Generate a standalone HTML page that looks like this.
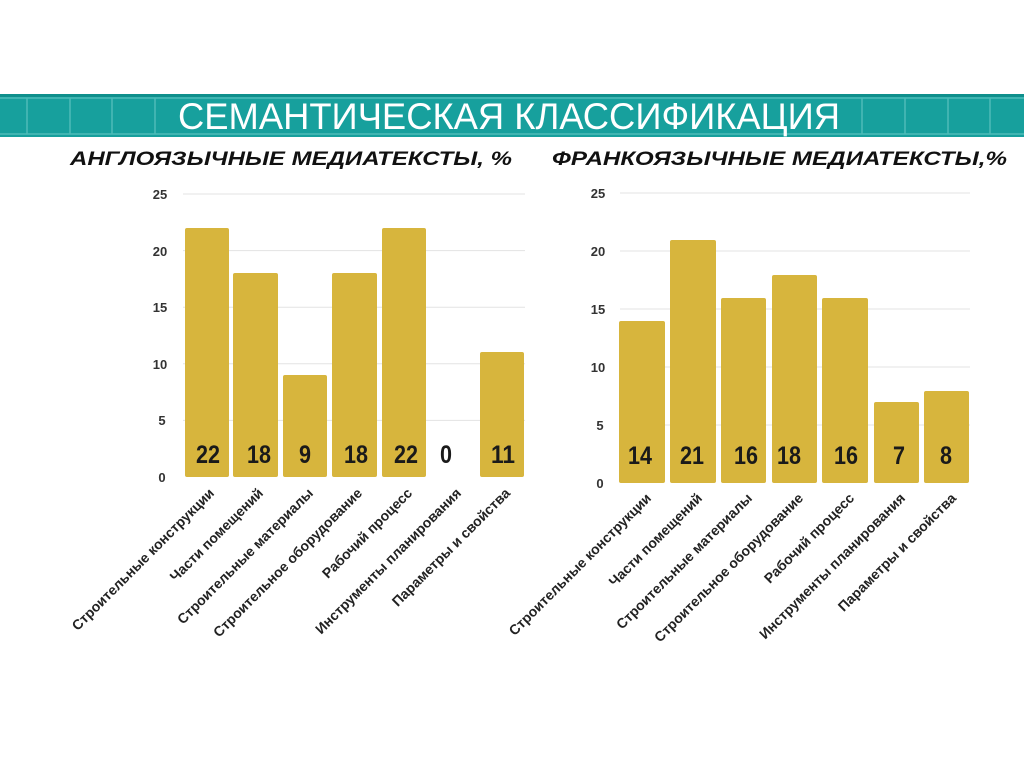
<!DOCTYPE html>
<html><head><meta charset="utf-8"><style>
body{margin:0;background:#fff;}
svg{display:block;}
</style></head><body>
<svg width="1024" height="767" viewBox="0 0 1024 767" xmlns="http://www.w3.org/2000/svg">
<rect width="1024" height="767" fill="#fff"/>
<rect x="0" y="94" width="1024" height="43" fill="#17a09d"/>
<rect x="0" y="94" width="1024" height="3" fill="#0f8f8c"/>
<g stroke="#5cc3bf" stroke-width="1.5" opacity="0.8">
<line x1="0" y1="98" x2="1024" y2="98"/>
<line x1="0" y1="134" x2="1024" y2="134"/>
<line x1="27" y1="98" x2="27" y2="134"/><line x1="70" y1="98" x2="70" y2="134"/><line x1="112" y1="98" x2="112" y2="134"/><line x1="155" y1="98" x2="155" y2="134"/>
<line x1="862" y1="98" x2="862" y2="134"/><line x1="905" y1="98" x2="905" y2="134"/><line x1="948" y1="98" x2="948" y2="134"/><line x1="990" y1="98" x2="990" y2="134"/>
</g>
<text x="178" y="129" textLength="662" lengthAdjust="spacingAndGlyphs" font-family="'Liberation Sans',sans-serif" font-size="37" fill="#fff">СЕМАНТИЧЕСКАЯ КЛАССИФИКАЦИЯ</text>
<text x="70" y="165" textLength="442" lengthAdjust="spacingAndGlyphs" font-family="'Liberation Sans',sans-serif" font-size="19" font-weight="bold" font-style="italic" fill="#111">АНГЛОЯЗЫЧНЫЕ МЕДИАТЕКСТЫ, %</text>
<text x="552" y="165" textLength="455" lengthAdjust="spacingAndGlyphs" font-family="'Liberation Sans',sans-serif" font-size="19" font-weight="bold" font-style="italic" fill="#111">ФРАНКОЯЗЫЧНЫЕ МЕДИАТЕКСТЫ,%</text>

<g font-family="'Liberation Sans',sans-serif" font-weight="bold" font-size="13" fill="#333" text-anchor="middle">
<g stroke="#e3e3e3" stroke-width="1">
<line x1="183" y1="194" x2="525" y2="194"/><line x1="183" y1="250.6" x2="525" y2="250.6"/><line x1="183" y1="307.2" x2="525" y2="307.2"/><line x1="183" y1="363.8" x2="525" y2="363.8"/><line x1="183" y1="420.4" x2="525" y2="420.4"/>
</g>
<text x="160" y="199">25</text><text x="160" y="256">20</text><text x="160" y="312">15</text><text x="160" y="369">10</text><text x="162" y="425">5</text><text x="162" y="482">0</text>
</g>
<g fill="#d7b53d">
<rect x="185" y="228" width="44" height="249" rx="2"/>
<rect x="233" y="273" width="45" height="204" rx="2"/>
<rect x="283" y="375" width="44" height="102" rx="2"/>
<rect x="332" y="273" width="45" height="204" rx="2"/>
<rect x="382" y="228" width="44" height="249" rx="2"/>
<rect x="480" y="352" width="44" height="125" rx="2"/>
</g>
<g font-family="'Liberation Sans',sans-serif" font-weight="bold" font-size="25" fill="#1a1a1a" lengthAdjust="spacingAndGlyphs">
<text x="196" y="463" textLength="24" lengthAdjust="spacingAndGlyphs">22</text>
<text x="247" y="463" textLength="24" lengthAdjust="spacingAndGlyphs">18</text>
<text x="299" y="463" textLength="12" lengthAdjust="spacingAndGlyphs">9</text>
<text x="344" y="463" textLength="24" lengthAdjust="spacingAndGlyphs">18</text>
<text x="394" y="463" textLength="24" lengthAdjust="spacingAndGlyphs">22</text>
<text x="440" y="463" textLength="12" lengthAdjust="spacingAndGlyphs">0</text>
<text x="491" y="463" textLength="24" lengthAdjust="spacingAndGlyphs">11</text>
</g>
<g font-family="'Liberation Sans',sans-serif" font-weight="bold" font-size="14" fill="#222" text-anchor="end">
<text transform="translate(215,494) rotate(-45)">Строительные конструкции</text>
<text transform="translate(264,494) rotate(-45)">Части помещений</text>
<text transform="translate(314,494) rotate(-45)">Строительные материалы</text>
<text transform="translate(363,494) rotate(-45)">Строительное оборудование</text>
<text transform="translate(413,494) rotate(-45)">Рабочий процесс</text>
<text transform="translate(462,494) rotate(-45)">Инструменты планирования</text>
<text transform="translate(511,494) rotate(-45)">Параметры и свойства</text>
</g>

<g font-family="'Liberation Sans',sans-serif" font-weight="bold" font-size="13" fill="#333" text-anchor="middle">
<g stroke="#e3e3e3" stroke-width="1">
<line x1="620" y1="193" x2="970" y2="193"/><line x1="620" y1="251" x2="970" y2="251"/><line x1="620" y1="309" x2="970" y2="309"/><line x1="620" y1="367" x2="970" y2="367"/><line x1="620" y1="425" x2="970" y2="425"/>
</g>
<text x="598" y="198">25</text><text x="598" y="256">20</text><text x="598" y="314">15</text><text x="598" y="372">10</text><text x="600" y="430">5</text><text x="600" y="488">0</text>
</g>
<g fill="#d7b53d">
<rect x="619" y="321" width="46" height="162" rx="2"/>
<rect x="670" y="240" width="46" height="243" rx="2"/>
<rect x="721" y="298" width="45" height="185" rx="2"/>
<rect x="772" y="275" width="45" height="208" rx="2"/>
<rect x="822" y="298" width="46" height="185" rx="2"/>
<rect x="874" y="402" width="45" height="81" rx="2"/>
<rect x="924" y="391" width="45" height="92" rx="2"/>
</g>
<g font-family="'Liberation Sans',sans-serif" font-weight="bold" font-size="25" fill="#1a1a1a">
<text x="628" y="464" textLength="24" lengthAdjust="spacingAndGlyphs">14</text>
<text x="680" y="464" textLength="24" lengthAdjust="spacingAndGlyphs">21</text>
<text x="734" y="464" textLength="24" lengthAdjust="spacingAndGlyphs">16</text>
<text x="777" y="464" textLength="24" lengthAdjust="spacingAndGlyphs">18</text>
<text x="834" y="464" textLength="24" lengthAdjust="spacingAndGlyphs">16</text>
<text x="893" y="464" textLength="12" lengthAdjust="spacingAndGlyphs">7</text>
<text x="940" y="464" textLength="12" lengthAdjust="spacingAndGlyphs">8</text>
</g>
<g font-family="'Liberation Sans',sans-serif" font-weight="bold" font-size="14" fill="#222" text-anchor="end">
<text transform="translate(652,499) rotate(-45)">Строительные конструкции</text>
<text transform="translate(703,499) rotate(-45)">Части помещений</text>
<text transform="translate(753,499) rotate(-45)">Строительные материалы</text>
<text transform="translate(804,499) rotate(-45)">Строительное оборудование</text>
<text transform="translate(855,499) rotate(-45)">Рабочий процесс</text>
<text transform="translate(906,499) rotate(-45)">Инструменты планирования</text>
<text transform="translate(957,499) rotate(-45)">Параметры и свойства</text>
</g>
</svg>
</body></html>
